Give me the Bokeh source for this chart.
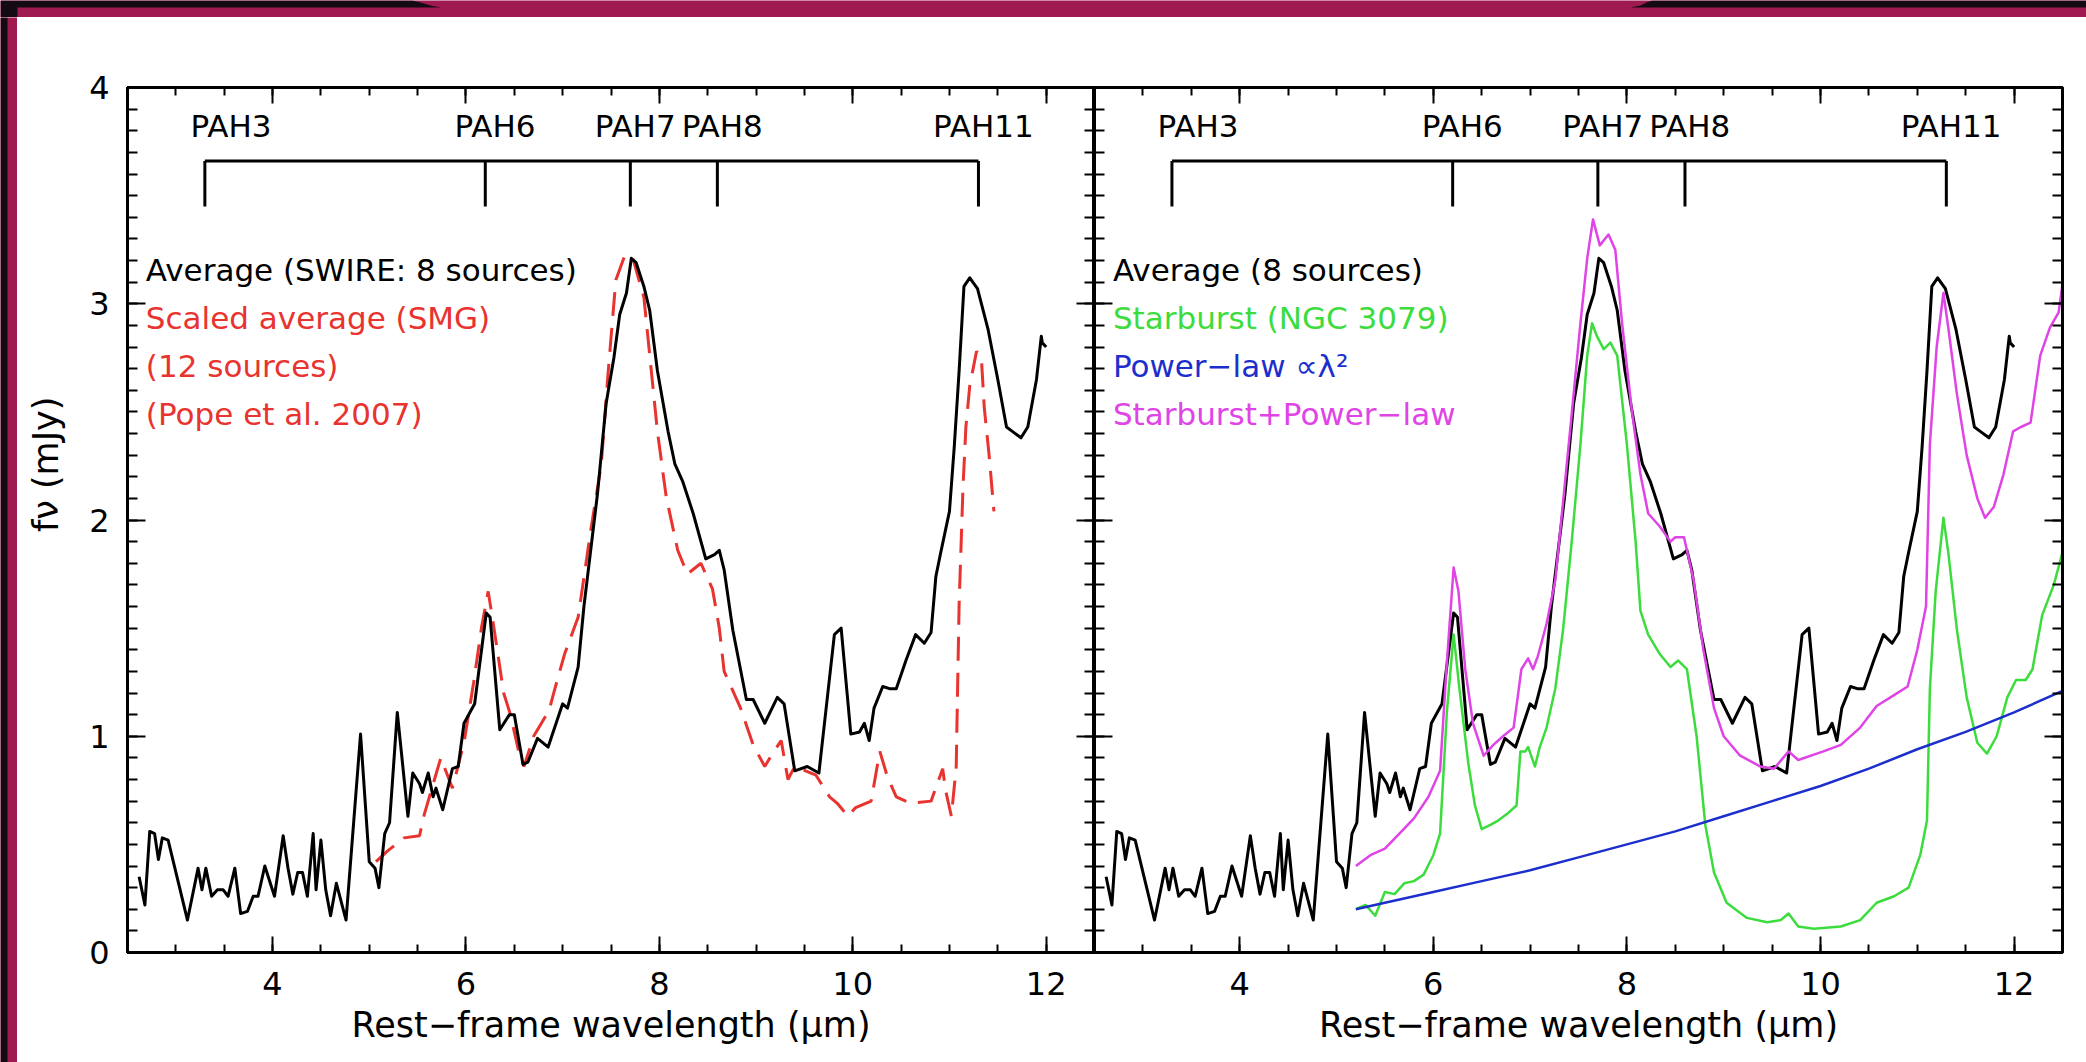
from bokeh.plotting import figure
from bokeh.layouts import row, column
from bokeh.models import Range1d, SingleIntervalTicker, LinearAxis
from bokeh.core.properties import value
from bokeh.embed import file_html
from bokeh.resources import INLINE

# ---------------------------------------------------------------- data
# Average mid-IR spectrum of the SWIRE sources (rest-frame, mJy)
avg_wl = [2.62, 2.68, 2.73, 2.78, 2.82, 2.86, 2.92, 3.12, 3.23, 3.27, 3.31, 3.37,
          3.43, 3.49, 3.54, 3.61, 3.67, 3.74, 3.80, 3.85, 3.92, 4.02, 4.11, 4.16,
          4.21, 4.26, 4.31, 4.36, 4.42, 4.45, 4.50, 4.55, 4.60, 4.66, 4.76, 4.91,
          5.00, 5.06, 5.10, 5.16, 5.21, 5.29, 5.40, 5.45, 5.52, 5.55, 5.61, 5.66,
          5.69, 5.76, 5.86, 5.92, 5.98, 6.09, 6.21, 6.25, 6.35, 6.45, 6.50, 6.59,
          6.64, 6.74, 6.85, 7.00, 7.05, 7.16, 7.22, 7.36, 7.45, 7.53, 7.59, 7.66,
          7.71, 7.76, 7.84, 7.90, 7.98, 8.09, 8.16, 8.24, 8.35, 8.48, 8.57, 8.62,
          8.67, 8.76, 8.90, 8.97, 9.09, 9.22, 9.29, 9.40, 9.53, 9.65, 9.81, 9.88,
          9.98, 10.07, 10.12, 10.17, 10.22, 10.31, 10.38, 10.45, 10.55, 10.65,
          10.74, 10.81, 10.86, 10.91, 11.00, 11.05, 11.10, 11.15, 11.21, 11.29,
          11.40, 11.50, 11.59, 11.65, 11.74, 11.81, 11.90, 11.95, 11.96, 12.00]
avg_flux = [0.35, 0.22, 0.56, 0.55, 0.43, 0.53, 0.52, 0.15, 0.39, 0.29, 0.39, 0.26,
            0.29, 0.29, 0.26, 0.39, 0.18, 0.19, 0.26, 0.26, 0.40, 0.26, 0.54, 0.39,
            0.27, 0.37, 0.37, 0.26, 0.55, 0.29, 0.52, 0.29, 0.17, 0.32, 0.15, 1.01,
            0.42, 0.39, 0.30, 0.55, 0.60, 1.11, 0.63, 0.83, 0.78, 0.74, 0.83, 0.72,
            0.76, 0.66, 0.85, 0.86, 1.06, 1.15, 1.57, 1.55, 1.03, 1.10, 1.10, 0.87,
            0.88, 0.99, 0.95, 1.15, 1.13, 1.32, 1.60, 2.12, 2.54, 2.75, 2.95, 3.05,
            3.21, 3.19, 3.08, 2.97, 2.69, 2.41, 2.26, 2.18, 2.03, 1.82, 1.84, 1.86,
            1.77, 1.49, 1.17, 1.17, 1.06, 1.18, 1.15, 0.84, 0.86, 0.83, 1.47, 1.50,
            1.01, 1.02, 1.06, 0.98, 1.13, 1.23, 1.22, 1.22, 1.35, 1.47,
            1.43, 1.48, 1.74, 1.85, 2.04, 2.34, 2.69, 3.08, 3.12, 3.07,
            2.88, 2.65, 2.43, 2.41, 2.38, 2.43, 2.65, 2.85, 2.82, 2.80]

# Scaled average of 12 SMGs (Pope et al. 2007)
smg_wl = [5.07, 5.19, 5.36, 5.52, 5.57, 5.74, 5.86, 5.98, 6.08, 6.16, 6.23, 6.29,
          6.39, 6.46, 6.55, 6.60, 6.70, 6.86, 6.92, 7.02, 7.16, 7.29, 7.40, 7.47,
          7.55, 7.64, 7.72, 7.84, 7.91, 7.98, 8.07, 8.19, 8.29, 8.43, 8.55, 8.62,
          8.67, 8.84, 8.97, 9.09, 9.17, 9.26, 9.33, 9.40, 9.62, 9.76, 9.84, 9.95,
          10.03, 10.19, 10.28, 10.36, 10.45, 10.60, 10.81, 10.93, 10.96, 11.02,
          11.07, 11.10, 11.14, 11.17, 11.21, 11.28, 11.33, 11.36, 11.41, 11.46]
smg_flux = [0.42, 0.47, 0.53, 0.54, 0.64, 0.90, 0.76, 0.97, 1.25, 1.50, 1.67, 1.50,
            1.20, 1.10, 0.92, 0.86, 1.00, 1.12, 1.22, 1.38, 1.55, 1.95, 2.26, 2.68,
            3.11, 3.22, 3.22, 3.03, 2.72, 2.41, 2.11, 1.86, 1.75, 1.80, 1.68, 1.50,
            1.30, 1.13, 0.96, 0.86, 0.92, 0.98, 0.80, 0.86, 0.82, 0.72, 0.69, 0.63,
            0.67, 0.70, 0.93, 0.81, 0.72, 0.69, 0.70, 0.85, 0.75, 0.63,
            0.86, 1.61, 2.15, 2.43, 2.62, 2.78, 2.75, 2.52, 2.30, 2.04]

# Starburst template (NGC 3079)
sb_wl = [5.20, 5.30, 5.40, 5.50, 5.60, 5.70, 5.80, 5.90, 6.00, 6.07, 6.14, 6.21,
         6.27, 6.36, 6.43, 6.50, 6.59, 6.67, 6.76, 6.86, 6.90, 6.95, 6.98, 7.05,
         7.10, 7.17, 7.26, 7.34, 7.43, 7.52, 7.59, 7.64, 7.69, 7.76, 7.83, 7.90,
         8.00, 8.09, 8.14, 8.22, 8.34, 8.45, 8.53, 8.62, 8.72, 8.81, 8.90, 9.03,
         9.24, 9.45, 9.59, 9.67, 9.77, 9.93, 10.21, 10.41, 10.58, 10.76, 10.91,
         11.03, 11.10, 11.13, 11.19, 11.27, 11.32, 11.41, 11.51, 11.62, 11.72,
         11.82, 11.93, 12.02, 12.12, 12.19, 12.29, 12.41, 12.50]
sb_flux = [0.20, 0.22, 0.17, 0.28, 0.27, 0.32, 0.33, 0.36, 0.45, 0.55, 1.11, 1.47,
           1.22, 0.88, 0.68, 0.57, 0.59, 0.61, 0.64, 0.68, 0.93, 0.93, 0.95, 0.86,
           0.95, 1.04, 1.22, 1.49, 1.90, 2.35, 2.76, 2.91, 2.85, 2.79, 2.82, 2.76,
           2.35, 1.90, 1.58, 1.47, 1.38, 1.32, 1.35, 1.31, 1.00, 0.59, 0.37, 0.23,
           0.16, 0.14, 0.15, 0.18, 0.12, 0.11, 0.12, 0.15, 0.23, 0.26, 0.30,
           0.45, 0.61, 1.22, 1.67, 2.01, 1.85, 1.49, 1.18, 0.97, 0.92,
           1.00, 1.18, 1.26, 1.26, 1.31, 1.56, 1.70, 1.85]

# Power-law component (proportional to lambda^2)
pl_wl = [5.2, 5.5, 6.0, 6.5, 7.0, 7.5, 8.0, 8.5, 9.0, 9.5, 10.0, 10.5, 11.0,
         11.5, 12.0, 12.5]
pl_flux = [0.20, 0.23, 0.28, 0.33, 0.38, 0.44, 0.50, 0.56, 0.63, 0.70, 0.77,
           0.85, 0.94, 1.02, 1.11, 1.21]

# Starburst + power-law
sum_wl = [5.20, 5.35, 5.50, 5.65, 5.80, 5.95, 6.07, 6.14, 6.21, 6.26, 6.33, 6.41,
          6.52, 6.62, 6.72, 6.83, 6.91, 6.98, 7.03, 7.08, 7.17, 7.26, 7.34, 7.43,
          7.52, 7.59, 7.65, 7.72, 7.81, 7.88, 7.95, 8.05, 8.14, 8.22, 8.34, 8.45,
          8.50, 8.59, 8.69, 8.79, 8.90, 9.00, 9.17, 9.38, 9.52, 9.67, 9.77, 10.03,
          10.21, 10.41, 10.58, 10.76, 10.90, 11.00, 11.09, 11.13, 11.20, 11.27,
          11.32, 11.41, 11.51, 11.62, 11.70, 11.79, 11.89, 11.99, 12.07, 12.17,
          12.27, 12.37, 12.46, 12.50]
sum_flux = [0.40, 0.45, 0.48, 0.55, 0.62, 0.72, 0.84, 1.34, 1.78, 1.67, 1.31, 1.06,
            0.91, 0.96, 1.00, 1.04, 1.31, 1.36, 1.31, 1.37, 1.52, 1.72, 2.08, 2.49,
            2.91, 3.21, 3.39, 3.27, 3.32, 3.25, 2.91, 2.51, 2.21, 2.03, 1.97, 1.90,
            1.92, 1.92, 1.72, 1.40, 1.13, 1.00, 0.91, 0.86, 0.85, 0.93, 0.89, 0.93,
            0.96, 1.04, 1.14, 1.19, 1.23, 1.40, 1.60, 2.35, 2.80, 3.05,
            2.89, 2.58, 2.30, 2.10, 2.01, 2.06, 2.21, 2.41, 2.43, 2.45,
            2.76, 2.89, 2.96, 3.09]

# PAH features marked above the spectra
pah_names = ["PAH3", "PAH6", "PAH7", "PAH8", "PAH11"]
pah_wl = [3.3, 6.2, 7.7, 8.6, 11.3]

left_legend = ["Average (SWIRE: 8 sources)", "Scaled average (SMG)",
               "(12 sources)", "(Pope et al. 2007)"]
right_legend = ["Average (8 sources)", "Starburst (NGC 3079)",
                "Power\u2212law \u221d\u03bb\u00b2", "Starburst+Power\u2212law"]

# ---------------------------------------------------------------- style
FONT = "DejaVu Sans"
MAROON = "#9e1a50"
DARK = "#140a12"
RED = "#e8332f"
GREEN = "#3ddc3d"
BLUE = "#1c2fcc"
MAGENTA = "#e043e6"

X_RANGE = (2.5, 12.5)
Y_RANGE = (0.0, 4.0)
PANEL_H = 1043
TOP_B, BOTTOM_B = 70, 108

TICK_FONT = "32px"
TITLE_FONT = "35px"
TEXT_FONT = "31px"

# label placement (data units)
pah_label_x = [3.57, 6.30, 7.75, 8.65, 11.35]
PAH_LABEL_Y = 3.82
BRACKET_TOP, BRACKET_BOT = 3.66, 3.45
LEG_X = 2.69
LEG_Y = [3.154, 2.932, 2.71, 2.488]

# the flux title sits a little above the middle of the axis
Y_TITLE = "\u00a0" * 10 + "f\u03bd (mJy)"


def make_axis(ticker, dim, label=None, show=True, standoff=0):
    ax = LinearAxis(ticker=ticker)
    ax.axis_line_color = "black"
    ax.axis_line_width = 3
    ax.major_tick_line_width = 2
    ax.minor_tick_line_width = 2
    ax.major_tick_out = 0
    ax.minor_tick_out = 0
    if dim == "x":
        ax.major_tick_in = 16
        ax.minor_tick_in = 8
    else:
        ax.major_tick_in = 18
        ax.minor_tick_in = 10
    ax.major_label_text_font = FONT
    ax.major_label_text_font_size = TICK_FONT
    ax.major_label_text_color = "black"
    if label:
        ax.axis_label = label
        ax.axis_label_text_font = FONT
        ax.axis_label_text_font_size = TITLE_FONT
        ax.axis_label_text_font_style = "normal"
        ax.axis_label_text_color = "black"
        ax.axis_label_standoff = standoff
    if not show:
        # tick marks only on this side of the box
        ax.major_label_text_font_size = "0px"
        ax.major_label_text_color = None
        ax.major_label_standoff = 0
    return ax


def panel(width, border_left, border_right, show_ylabels):
    p = figure(width=width, height=PANEL_H,
               x_range=Range1d(*X_RANGE), y_range=Range1d(*Y_RANGE),
               x_axis_location=None, y_axis_location=None,
               output_backend="svg", toolbar_location=None,
               min_border_left=border_left, min_border_right=border_right,
               min_border_top=TOP_B, min_border_bottom=BOTTOM_B)
    p.grid.grid_line_color = None
    p.outline_line_color = "black"
    p.outline_line_width = 3
    p.background_fill_color = "white"
    p.border_fill_color = "white"

    xt = SingleIntervalTicker(interval=2, num_minor_ticks=4)
    yt = SingleIntervalTicker(interval=1, num_minor_ticks=10)

    bottom = make_axis(xt, "x", label="Rest\u2212frame wavelength (\u03bcm)", standoff=7)
    bottom.major_label_standoff = 19
    p.add_layout(bottom, "below")
    p.add_layout(make_axis(xt, "x", show=False), "above")

    if show_ylabels:
        left = make_axis(yt, "y", label=Y_TITLE, standoff=20)
        left.major_label_standoff = 18
    else:
        left = make_axis(yt, "y", show=False)
    p.add_layout(left, "left")
    p.add_layout(make_axis(yt, "y", show=False), "right")

    # PAH feature bracket
    xs = [[pah_wl[0], pah_wl[-1]]] + [[w, w] for w in pah_wl]
    ys = [[BRACKET_TOP, BRACKET_TOP]] + [[BRACKET_TOP, BRACKET_BOT] for _ in pah_wl]
    p.multi_line(xs, ys, line_color="black", line_width=3)
    p.text(x=pah_label_x, y=[PAH_LABEL_Y] * len(pah_names), text=pah_names,
           text_font=value(FONT), text_font_size=TEXT_FONT, text_color="black",
           text_align="center", text_baseline="middle")
    return p


def legend(p, lines, colors):
    p.text(x=[LEG_X] * len(lines), y=LEG_Y[:len(lines)], text=lines,
           text_color=colors, text_font=value(FONT), text_font_size=TEXT_FONT,
           text_align="left", text_baseline="middle")


# ---------------------------------------------------------------- panels
LEFT_W, RIGHT_W = 1077, 992
left = panel(LEFT_W, 110, 0, True)
right = panel(RIGHT_W, 0, 24, False)

left.line(smg_wl, smg_flux, line_color=RED, line_width=3, line_dash="24 12")
left.line(avg_wl, avg_flux, line_color="black", line_width=3, line_join="round")
legend(left, left_legend, ["black", RED, RED, RED])

right.line(sb_wl, sb_flux, line_color=GREEN, line_width=2.5, line_join="round")
right.line(pl_wl, pl_flux, line_color=BLUE, line_width=2.5)
right.line(avg_wl, avg_flux, line_color="black", line_width=3, line_join="round")
right.line(sum_wl, sum_flux, line_color=MAGENTA, line_width=2.5, line_join="round")
legend(right, right_legend, ["black", GREEN, BLUE, MAGENTA])


# ---------------------------------------------------------------- frame bands
def band(width, height, xr, yr):
    b = figure(width=width, height=height, x_range=Range1d(*xr), y_range=Range1d(*yr),
               x_axis_location=None, y_axis_location=None,
               output_backend="svg", toolbar_location=None,
               min_border=0, min_border_left=0, min_border_right=0,
               min_border_top=0, min_border_bottom=0)
    b.grid.grid_line_color = None
    b.outline_line_color = None
    b.background_fill_color = MAROON
    b.border_fill_color = MAROON
    return b


top = band(2086, 17, (0, 2086), (17, 0))
top.patch([0, 412, 420, 430, 440, 1630, 1640, 1646, 1652, 2086, 2086, 17, 17, 0],
          [0, 0, 2, 5, 7, 7, 5, 2, 0, 0, 7, 7, 17, 17],
          fill_color=DARK, line_color=None)

side = band(17, 1045, (0, 17), (0, 1045))
side.quad(left=[0], right=[7], bottom=[0], top=[1045], fill_color=DARK, line_color=None)

foot = band(LEFT_W + RIGHT_W, 2, (0, 1), (0, 1))

page = column(top, row(side, column(row(left, right), foot)))

with open("out.html", "w") as f:
    f.write(file_html(page, INLINE))
